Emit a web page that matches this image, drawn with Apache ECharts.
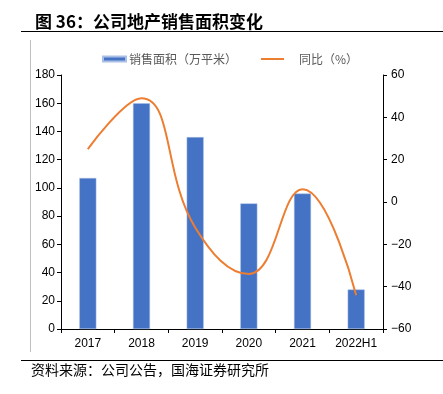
<!DOCTYPE html>
<html><head><meta charset="utf-8">
<script src="https://cdn.jsdelivr.net/npm/echarts@6/dist/echarts.min.js"></script>
<style>html,body{margin:0;padding:0;background:#fff}#c{width:443px;height:394px}</style>
</head><body><div id="c"></div>
<script>
var categories = ['2017','2018','2019','2020','2021','2022H1'];
var salesArea = [107, 160, 136, 89, 96, 28];
var yoy = [25, 49, -12, -34, 6, -44];
var leftTicks = [0, 180, 20];
var rightTicks = [-60, 60, 20];

var font = '"Noto Sans CJK SC", "Liberation Sans", sans-serif';
var chart = echarts.init(document.getElementById('c'), null, {renderer:'canvas'});
chart.setOption({
  animation: false,
  title: {
    text: '图 36：公司地产销售面积变化',
    left: 30, top: 8,
    textStyle: {fontFamily: font, fontSize: 17, fontWeight: 'bold', color: '#000'}
  },
  graphic: [
    {type:'line', shape:{x1:21,y1:31.5,x2:443,y2:31.5}, style:{stroke:'#000', lineWidth:1}},
    {type:'line', shape:{x1:30.5,y1:40,x2:30.5,y2:352}, style:{stroke:'#bfbfbf', lineWidth:1}},
    {type:'line', shape:{x1:21,y1:360.5,x2:443,y2:360.5}, style:{stroke:'#000', lineWidth:1}},
    {type:'text', left:31, top:363, style:{text:'资料来源：公司公告，国海证券研究所', font:'14px ' + font, fill:'#000'}}
  ],
  legend: [
    {top: 48, left: 97, itemWidth: 23, itemHeight: 5, itemGap: 4,
     textStyle: {fontFamily: font, fontSize: 12, color: '#595959', padding:[0,0,0,-2]},
     data: [{name:'销售面积（万平米）', icon:'rect'}]},
    {top: 48, left: 256, itemWidth: 23, itemHeight: 5, itemGap: 4,
     textStyle: {fontFamily: font, fontSize: 12, color: '#595959', padding:[0,0,0,10]},
     data: [{name:'同比（%）', icon:'path://M0,0 L23,0 L23,2 L0,2 Z'}]}
  ],
  grid: {left: 61, right: 60, top: 75, bottom: 65},
  xAxis: {
    type: 'category', data: categories,
    axisLine: {lineStyle: {color: '#000'}},
    axisTick: {show: true, length: 4, lineStyle:{color:'#000'}},
    axisLabel: {interval: 0, fontFamily: '"Liberation Sans", sans-serif', fontSize: 12, color: '#000', margin: 9}
  },
  yAxis: [
    {type:'value', min: leftTicks[0], max: leftTicks[1], interval: leftTicks[2],
     axisLine:{show:true, lineStyle:{color:'#000'}},
     axisTick:{show:true, length:4, lineStyle:{color:'#000'}},
     splitLine:{show:false},
     axisLabel:{fontFamily:'"Liberation Sans", sans-serif', fontSize:12, color:'#000', margin:6}},
    {type:'value', min: rightTicks[0], max: rightTicks[1], interval: rightTicks[2],
     axisLine:{show:true, lineStyle:{color:'#000'}},
     axisTick:{show:true, length:4, lineStyle:{color:'#000'}},
     splitLine:{show:false},
     axisLabel:{fontFamily:'"Liberation Sans", sans-serif', fontSize:12, color:'#000', margin:8,
       formatter: function(v){ return v < 0 ? '\u2212' + Math.abs(v) : String(v); }}}
  ],
  series: [
    {name:'销售面积（万平米）', type:'bar', data: salesArea, barWidth: 17,
     itemStyle:{color:'#4472C4', borderColor:'#a9bfe6', borderWidth:0.5}},
    {name:'同比（%）', type:'line', yAxisIndex:1, data: yoy, smooth: 0.45,
     symbol:'none', lineStyle:{color:'#ED7D31', width:2}, itemStyle:{color:'#ED7D31'}}
  ]
});
</script></body></html>
